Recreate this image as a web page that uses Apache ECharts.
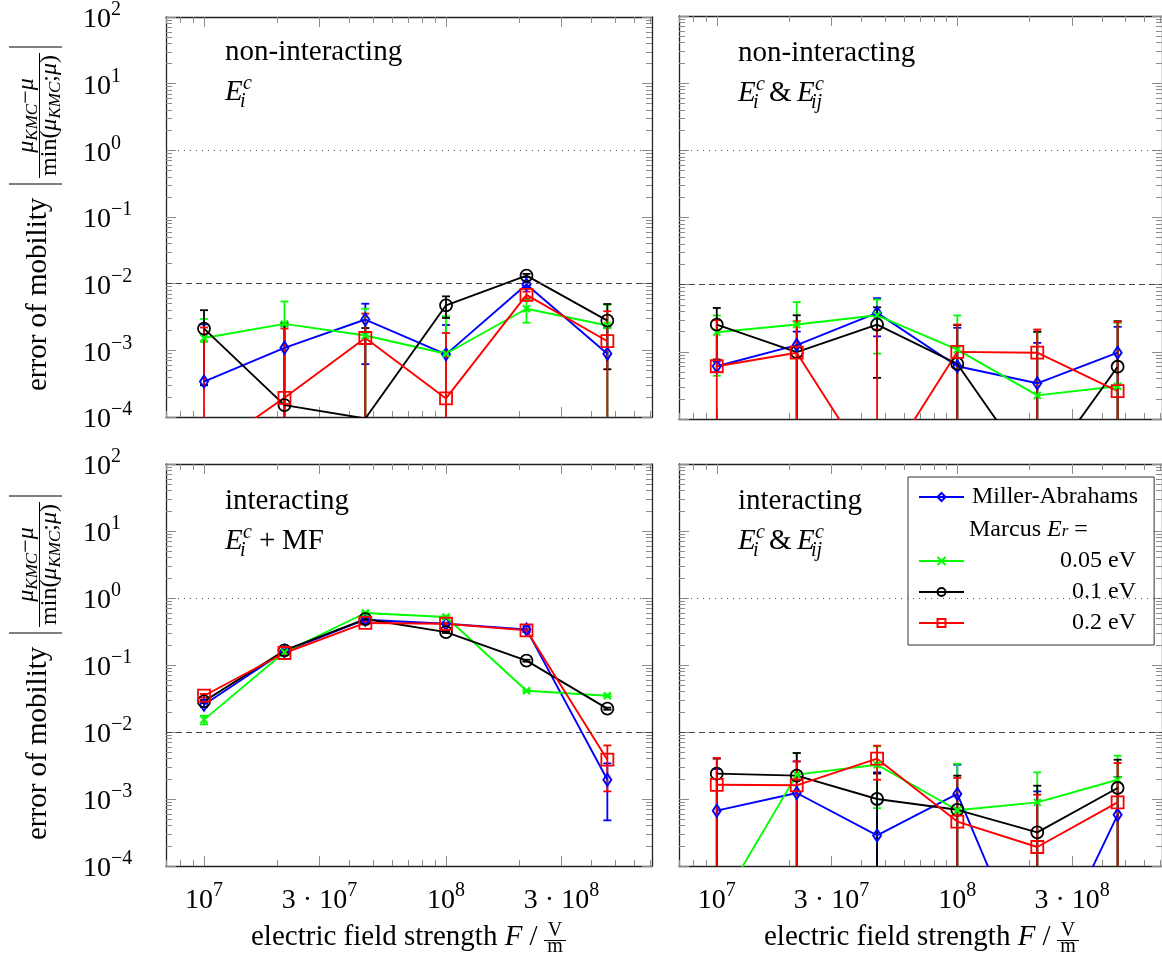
<!DOCTYPE html>
<html>
<head>
<meta charset="utf-8">
<script src="https://cdn.jsdelivr.net/npm/echarts@6/dist/echarts.min.js"></script>
<style>
html, body { margin: 0; padding: 0; background: #fff; }
#chart { width: 1162px; height: 962px; }
</style>
</head>
<body>
<div id="chart"></div>
<script>
var L = Math.log10;
var serif = '"Liberation Serif", "Times New Roman", Times, serif';

// field strengths (V/m) and tick values
var field = [1e7, 2.15e7, 4.64e7, 1e8, 2.15e8, 4.64e8];
var xMajorTicks = [1e7, 3e7, 1e8, 3e8];
var xMinorTicks = [7e6, 8e6, 9e6, 2e7, 4e7, 5e7, 6e7, 7e7, 8e7, 9e7, 2e8, 4e8, 5e8, 6e8, 7e8];
var yDecades = [-4, -3, -2, -1, 0, 1, 2];
var seriesNames = ['Miller-Abrahams', '0.05 eV', '0.1 eV', '0.2 eV'];

// top left: non-interacting, E_i^c   (lo = 0 means bar runs off the bottom)
var tlMA = [3.4e-4, 1.09e-3, 2.9e-3, 8.7e-4, 9.7e-3, 8.9e-4];
var tlMAlo = [3.0e-4, 0, 6.2e-4, 0, 8.8e-3, 0];
var tlMAhi = [2.45e-3, 2.3e-3, 5.0e-3, 2.4e-3, 1.05e-2, 2.2e-3];
var tlG = [1.53e-3, 2.49e-3, 1.67e-3, 8.9e-4, 4.2e-3, 2.36e-3];
var tlGlo = [1.34e-3, 0, 0, 0, 2.6e-3, 0];
var tlGhi = [2.95e-3, 5.4e-3, 4.2e-3, 3.25e-3, 5.7e-3, 4.8e-3];
var tlK = [2.12e-3, 1.51e-4, 9.5e-5, 4.74e-3, 1.32e-2, 2.79e-3];
var tlKlo = [3.0e-4, 0, 0, 3.06e-3, 1.25e-2, 5.2e-4];
var tlKhi = [4.0e-3, 2.57e-3, 2.16e-3, 6.45e-3, 1.4e-2, 4.95e-3];
var tlR = [2.8e-5, 1.94e-4, 1.53e-3, 1.9e-4, 6.8e-3, 1.37e-3];
var tlRlo = [0, 0, 0, 0, 6.0e-3, 0];
var tlRhi = [2.2e-3, 2.12e-3, 3.56e-3, 1.82e-3, 7.6e-3, 3.86e-3];

// top right: non-interacting, E_i^c & E_ij^c
var trMA = [6.1e-4, 1.26e-3, 3.8e-3, 6.1e-4, 3.4e-4, 9.7e-4];
var trMAlo = [5.0e-4, 0, 1.7e-3, 0, 0, 0];
var trMAhi = [7.2e-4, 2.0e-3, 6.3e-3, 2.28e-3, 1.36e-3, 2.36e-3];
var trG = [1.96e-3, 2.55e-3, 3.5e-3, 1.08e-3, 2.25e-4, 3.07e-4];
var trGlo = [4.4e-4, 0, 9.4e-4, 0, 0, 0];
var trGhi = [3.48e-3, 5.5e-3, 6.0e-3, 3.48e-3, 1.96e-3, 2.7e-3];
var trK = [2.55e-3, 9.9e-4, 2.55e-3, 6.6e-4, 1.3e-5, 6.0e-4];
var trKlo = [7.7e-4, 0, 4.1e-4, 0, 0, 0];
var trKhi = [4.5e-3, 3.5e-3, 4.6e-3, 2.5e-3, 2.0e-3, 2.86e-3];
var trR = [6.1e-4, 9.7e-4, 1.3e-5, 1.0e-3, 9.7e-4, 2.6e-4];
var trRlo = [0, 0, 0, 0, 0, 0];
var trRhi = [2.96e-3, 2.86e-3, 2.15e-3, 2.55e-3, 2.15e-3, 2.8e-3];

// bottom left: interacting, E_i^c + MF
var blMA = [2.55e-2, 0.160, 0.474, 0.413, 0.340, 1.94e-3];
var blMAlo = [2.35e-2, 0.152, 0.455, 0.398, 0.310, 4.8e-4];
var blMAhi = [2.75e-2, 0.168, 0.493, 0.428, 0.380, 3.4e-3];
var blG = [1.53e-2, 0.155, 0.597, 0.520, 4.13e-2, 3.48e-2];
var blGlo = [1.3e-2, 0.150, 0.580, 0.500, 4.0e-2, 3.35e-2];
var blGhi = [1.75e-2, 0.160, 0.615, 0.540, 4.26e-2, 3.6e-2];
var blK = [2.86e-2, 0.165, 0.485, 0.310, 0.116, 2.23e-2];
var blKlo = [2.7e-2, 0.160, 0.470, 0.300, 0.112, 2.15e-2];
var blKhi = [3.0e-2, 0.170, 0.500, 0.320, 0.120, 2.31e-2];
var blR = [3.48e-2, 0.151, 0.424, 0.413, 0.329, 3.86e-3];
var blRlo = [3.25e-2, 0.146, 0.410, 0.400, 0.315, 1.3e-3];
var blRhi = [3.7e-2, 0.156, 0.438, 0.426, 0.343, 6.3e-3];

// bottom right: interacting, E_i^c & E_ij^c
var brMA = [6.7e-4, 1.23e-3, 2.86e-4, 1.19e-3, 1.8e-6, 5.8e-4];
var brMAlo = [0, 0, 0, 0, 0, 0];
var brMAhi = [2.8e-3, 3.64e-3, 2.5e-3, 3.25e-3, 1.3e-3, 2.13e-3];
var brG = [2.2e-5, 2.31e-3, 3.25e-3, 6.8e-4, 8.9e-4, 1.94e-3];
var brGlo = [0, 0, 7.3e-4, 0, 0, 0];
var brGhi = [2.2e-5, 4.86e-3, 6.1e-3, 3.36e-3, 2.5e-3, 4.43e-3];
var brK = [2.39e-3, 2.23e-3, 1.0e-3, 6.9e-4, 3.18e-4, 1.46e-3];
var brKlo = [0, 0, 0, 0, 0, 0];
var brKhi = [4.0e-3, 4.86e-3, 2.4e-3, 2.23e-3, 1.58e-3, 3.86e-3];
var brR = [1.63e-3, 1.6e-3, 4.0e-3, 4.6e-4, 1.92e-4, 8.9e-4];
var brRlo = [0, 0, 1.94e-3, 0, 0, 0];
var brRhi = [4.1e-3, 3.64e-3, 6.25e-3, 2.06e-3, 1.16e-3, 3.44e-3];

var panels = [
    {left: 166, top: 15, height: 402, yLabels: true, xLabels: false, title: 'non-interacting', sub: 'single',
     data: [[tlMA, tlMAlo, tlMAhi], [tlG, tlGlo, tlGhi], [tlK, tlKlo, tlKhi], [tlR, tlRlo, tlRhi]]},
    {left: 679, top: 16, height: 403, yLabels: false, xLabels: false, title: 'non-interacting', sub: 'pair',
     data: [[trMA, trMAlo, trMAhi], [trG, trGlo, trGhi], [trK, trKlo, trKhi], [trR, trRlo, trRhi]]},
    {left: 166, top: 464, height: 402, yLabels: true, xLabels: true, title: 'interacting', sub: 'mf',
     data: [[blMA, blMAlo, blMAhi], [blG, blGlo, blGhi], [blK, blKlo, blKhi], [blR, blRlo, blRhi]]},
    {left: 679, top: 464, height: 402, yLabels: false, xLabels: true, title: 'interacting', sub: 'pair',
     data: [[brMA, brMAlo, brMAhi], [brG, brGlo, brGhi], [brK, brKlo, brKhi], [brR, brRlo, brRhi]]}
];

var styles = [
    {color: '#0000ff', symbol: 'diamond', size: [8, 12], bw: 2},
    {color: '#00ff00', symbol: 'path://M0,0L10,10M10,0L0,10', size: 7, bw: 2},
    {color: '#000000', symbol: 'circle', size: 12, bw: 1.8},
    {color: '#ff0000', symbol: 'rect', size: 12, bw: 1.8}
];

var yMinorTicks = [];
for (var d = -4; d < 2; d++) {
    for (var k = 2; k <= 9; k++) yMinorTicks.push(d + L(k));
}

var supRich = {
    b: {fontFamily: serif, fontSize: 28, lineHeight: 34, verticalAlign: 'bottom', color: '#000'},
    e: {fontFamily: serif, fontSize: 20, lineHeight: 20, verticalAlign: 'top', color: '#000'}
};

function yFmt(v) {
    var e = Math.round(v);
    return '{b|10}{e|' + (e < 0 ? '\u2212' + (-e) : e) + '}';
}
function xFmt(v) {
    var e = Math.floor(v + 1e-6);
    var m = Math.round(Math.pow(10, v - e));
    return (m === 1 ? '{b|10}' : '{b|' + m + ' \u00b7 10}') + '{e|' + e + '}';
}

var option = {
    animation: false,
    backgroundColor: '#fff',
    grid: [], xAxis: [], yAxis: [], series: [], graphic: [],
    legend: {
        left: 908, top: 477, orient: 'vertical', selectedMode: false,
        padding: [8, 16, 10, 10], itemGap: 7, itemWidth: 45, itemHeight: 10,
        backgroundColor: '#fff', borderColor: '#333', borderWidth: 1, borderRadius: 0,
        data: [{name: 'Miller-Abrahams'}, {name: 'Marcus', icon: 'none'}, '0.05 eV', '0.1 eV', '0.2 eV'],
        formatter: function (n) {
            if (n === 'Miller-Abrahams') return '{t|Miller-Abrahams}';
            if (n === 'Marcus') return '{m|Marcus }{mi|E}{s|r}{m| =}';
            return '{r|' + n + '}';
        },
        textStyle: {
            fontFamily: serif, fontSize: 24, color: '#000',
            rich: {
                t: {fontFamily: serif, fontSize: 24, lineHeight: 24, color: '#000', padding: [0, 0, 0, 3]},
                r: {fontFamily: serif, fontSize: 24, lineHeight: 24, color: '#000', width: 167, align: 'right'},
                m: {fontFamily: serif, fontSize: 24, lineHeight: 22, verticalAlign: 'top', color: '#000'},
                mi: {fontFamily: serif, fontSize: 24, lineHeight: 22, verticalAlign: 'top', fontStyle: 'italic', color: '#000'},
                s: {fontFamily: serif, fontSize: 17, lineHeight: 17, verticalAlign: 'bottom', fontStyle: 'italic', color: '#000', padding: [7, 0, 0, 0]}
            }
        }
    }
};

function errRender(color) {
    return function (params, api) {
        var x = api.value(0), lo = api.value(1), hi = api.value(2);
        if (hi < -4) return null;
        var loCut = lo < -4, hiCut = hi > 2;
        var p1 = api.coord([x, loCut ? -4 : lo]);
        var p2 = api.coord([x, hiCut ? 2 : hi]);
        var st = {stroke: color, lineWidth: 1.8};
        var ch = [{type: 'line', shape: {x1: p1[0], y1: p1[1], x2: p2[0], y2: p2[1]}, style: st}];
        if (!loCut) ch.push({type: 'line', shape: {x1: p1[0] - 4, y1: p1[1], x2: p1[0] + 4, y2: p1[1]}, style: st});
        if (!hiCut) ch.push({type: 'line', shape: {x1: p2[0] - 4, y1: p2[1], x2: p2[0] + 4, y2: p2[1]}, style: st});
        return {type: 'group', children: ch};
    };
}

function txt(x, base, s, size, italic) {
    return {
        type: 'text', x: x, y: base - 0.32 * size, silent: true,
        style: {text: s, fill: '#000', font: (italic ? 'italic ' : '') + size + 'px ' + serif, verticalAlign: 'middle', align: 'left'}
    };
}

var fracRich = {
    m: {fontFamily: serif, fontSize: 24, fontStyle: 'italic', lineHeight: 26, verticalAlign: 'top', color: '#000'},
    r: {fontFamily: serif, fontSize: 24, lineHeight: 26, verticalAlign: 'top', color: '#000'},
    s: {fontFamily: serif, fontSize: 17, fontStyle: 'italic', lineHeight: 17, verticalAlign: 'bottom', color: '#000', padding: [12, 0, 0, 0]}
};

panels.forEach(function (p, gi) {
    option.grid.push({left: p.left, top: p.top, width: 486, height: p.height, containLabel: false});

    [['bottom', true], ['top', true], ['bottom', false], ['top', false]].forEach(function (a, j) {
        option.xAxis.push({
            type: 'value', gridIndex: gi, position: a[0], min: 6.843, max: 8.851,
            axisLine: {show: a[1], onZero: false, lineStyle: {color: '#222', width: 1.3}},
            axisTick: {show: true, inside: true, length: a[1] ? 10 : 6,
                customValues: (a[1] ? xMajorTicks : xMinorTicks).map(L),
                lineStyle: {color: '#8c8c8c', width: 1}},
            axisLabel: (j === 0 && p.xLabels) ? {customValues: xMajorTicks.map(L), formatter: xFmt, margin: 15, rich: supRich, color: '#000'} : {show: false},
            splitLine: {show: false}
        });
    });
    [['left', true], ['right', true], ['left', false], ['right', false]].forEach(function (a, j) {
        option.yAxis.push({
            type: 'value', gridIndex: gi, position: a[0], min: -4, max: 2,
            axisLine: {show: a[1], onZero: false, lineStyle: {color: '#222', width: 1.3}},
            axisTick: {show: true, inside: true, length: a[1] ? 10 : 6,
                customValues: a[1] ? yDecades : yMinorTicks,
                lineStyle: {color: '#8c8c8c', width: 1}},
            axisLabel: (j === 0 && p.yLabels) ? {customValues: yDecades, formatter: yFmt, align: 'left', margin: 83, rich: supRich, color: '#000'} : {show: false},
            splitLine: {show: false}
        });
    });

    // reference lines at 1e-2 (dashed) and 1e0 (dotted)
    option.series.push({
        type: 'line', name: 'ref' + gi, xAxisIndex: gi * 4, yAxisIndex: gi * 4, data: [],
        markLine: {
            silent: true, symbol: 'none', label: {show: false}, animation: false,
            data: [
                {yAxis: -2, lineStyle: {type: [6, 4], color: '#444', width: 1}},
                {yAxis: 0, lineStyle: {type: [1, 5], color: '#555', width: 1}}
            ]
        }
    });
    if (gi === 0) {
        option.series.push({type: 'line', name: 'Marcus', xAxisIndex: 0, yAxisIndex: 0, data: []});
    }

    p.data.forEach(function (set, si) {
        var st = styles[si];
        option.series.push({
            type: 'custom', name: 'err' + gi + '-' + si, xAxisIndex: gi * 4, yAxisIndex: gi * 4,
            silent: true, z: 2,
            encode: {x: 0, y: [1, 2]},
            data: field.map(function (f, i) {
                return [L(f), set[1][i] > 0 ? L(set[1][i]) : -99, L(set[2][i])];
            }),
            renderItem: errRender(st.color)
        });
        option.series.push({
            type: 'line', name: seriesNames[si], xAxisIndex: gi * 4, yAxisIndex: gi * 4, z: 2,
            data: field.map(function (f, i) { return [L(f), L(set[0][i])]; }),
            symbol: st.symbol, symbolSize: st.size, showSymbol: true, clip: true,
            lineStyle: {color: st.color, width: 1.9},
            itemStyle: {color: 'rgba(255,255,255,0)', borderColor: st.color, borderWidth: st.bw},
            emphasis: {disabled: true}
        });
    });

    // panel annotations
    var x0 = p.left + 59, b1 = p.top + 47, b2 = p.top + 87;
    option.graphic.push(txt(x0, b1, p.title, 29, false));
    option.graphic.push(txt(x0, b2, 'E', 29, true), txt(x0 + 18, b2 - 12, 'c', 20, true), txt(x0 + 15, b2 + 6, 'i', 20, true));
    if (p.sub === 'pair') {
        option.graphic.push(txt(x0 + 31, b2, '&', 29, false), txt(x0 + 59, b2, 'E', 29, true),
            txt(x0 + 77, b2 - 12, 'c', 20, true), txt(x0 + 73, b2 + 6, 'ij', 20, true));
    } else if (p.sub === 'mf') {
        option.graphic.push(txt(x0 + 34, b2, '+', 29, false), txt(x0 + 57, b2, 'MF', 29, false));
    }

    // y axis title (rotated)
    if (p.yLabels) {
        option.graphic.push({
            type: 'group', x: 0, y: p.top + 391, rotation: Math.PI / 2, silent: true,
            children: [
                {type: 'text', x: 15, y: 48 - 0.32 * 29, style: {text: 'error of mobility', font: '29px ' + serif, fill: '#000', verticalAlign: 'middle'}},
                {type: 'line', shape: {x1: 222, y1: 9, x2: 222, y2: 62}, style: {stroke: '#000', lineWidth: 1}},
                {type: 'line', shape: {x1: 359, y1: 9, x2: 359, y2: 62}, style: {stroke: '#000', lineWidth: 1}},
                {type: 'line', shape: {x1: 228, y1: 39.5, x2: 353, y2: 39.5}, style: {stroke: '#000', lineWidth: 1}},
                {type: 'text', x: 290.5, y: 28, style: {text: '{m|\u03bc}{s|KMC}{r|\u2212}{m|\u03bc}', rich: fracRich, align: 'center', verticalAlign: 'middle'}},
                {type: 'text', x: 290.5, y: 51, style: {text: '{r|min(}{m|\u03bc}{s|KMC}{r|;}{m|\u03bc}{r|)}', rich: fracRich, align: 'center', verticalAlign: 'middle'}}
            ]
        });
    }

    // x axis title
    if (p.xLabels) {
        option.graphic.push({
            type: 'text', x: p.left + 85, y: 947 - 0.32 * 29, silent: true,
            style: {text: '{r|electric field strength }{i|F}{r| /}', verticalAlign: 'middle',
                rich: {r: {fontFamily: serif, fontSize: 29, color: '#000'}, i: {fontFamily: serif, fontSize: 29, fontStyle: 'italic', color: '#000'}}}
        });
        option.graphic.push(
            {type: 'text', x: p.left + 389, y: 937 - 0.32 * 20, silent: true, style: {text: 'V', font: '20px ' + serif, fill: '#000', align: 'center', verticalAlign: 'middle'}},
            {type: 'line', silent: true, shape: {x1: p.left + 378, y1: 940.5, x2: p.left + 400, y2: 940.5}, style: {stroke: '#000', lineWidth: 1}},
            {type: 'text', x: p.left + 389, y: 953 - 0.32 * 20, silent: true, style: {text: 'm', font: '20px ' + serif, fill: '#000', align: 'center', verticalAlign: 'middle'}}
        );
    }
});

var chart = echarts.init(document.getElementById('chart'));
chart.setOption(option);
</script>
</body>
</html>
